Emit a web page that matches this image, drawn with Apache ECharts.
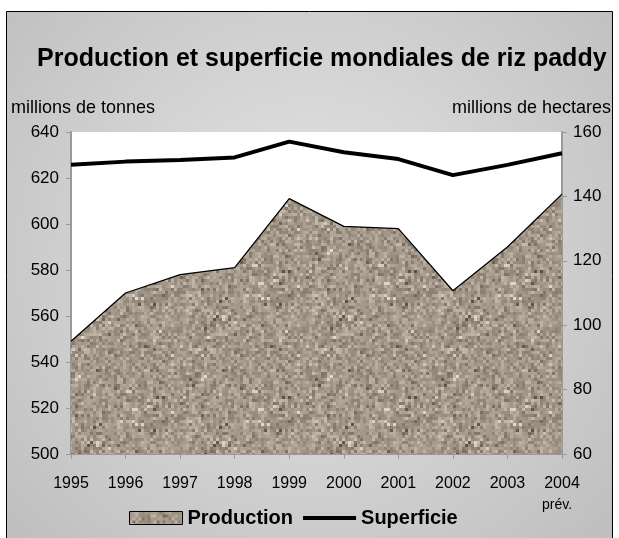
<!DOCTYPE html>
<html>
<head>
<meta charset="utf-8">
<script src="https://cdn.jsdelivr.net/npm/echarts@6/dist/echarts.min.js"></script>
<style>
  html, body { margin: 0; padding: 0; background: #fff; }
  #chart { width: 619px; height: 538px; }
</style>
</head>
<body>
<div id="chart"></div>
<script>
// ---- data ----
var years = ['1995', '1996', '1997', '1998', '1999', '2000', '2001', '2002', '2003', '2004'];
var production = [549, 570, 578, 581, 611, 599, 598, 571, 590, 613];   // millions de tonnes
var superficie = [149.8, 150.8, 151.3, 152.1, 157.0, 153.7, 151.6, 146.6, 149.8, 153.4]; // millions de hectares
var leftTicks = { min: 500, max: 640, interval: 20 };
var rightTicks = { min: 60, max: 160, interval: 20 };
var titleText = 'Production et superficie mondiales de riz paddy';
var leftName = 'millions de tonnes';
var rightName = 'millions de hectares';
var noteLast = 'prév.';

// ---- speckled texture (style only) ----
function makeTexture() {
  var size = 126, block = 3;
  var c = document.createElement('canvas');
  c.width = size; c.height = size;
  var ctx = c.getContext('2d');
  var seed = 12345;
  function rnd() { seed = (seed * 1103515245 + 12345) % 2147483648; return seed / 2147483648; }
  for (var y = 0; y < size; y += block) {
    for (var x = 0; x < size; x += block) {
      var p = rnd();
      var L;
      if (p < 0.015) L = 80 + rnd() * 40;
      else if (p < 0.03) L = 195 + rnd() * 25;
      else L = 152 + (rnd() + rnd() - 1) * 42;
      var r = Math.round(Math.min(255, L + 11)), g = Math.round(L - 1), b = Math.round(L - 14);
      ctx.fillStyle = 'rgb(' + r + ',' + g + ',' + b + ')';
      ctx.fillRect(x, y, block, block);
    }
  }
  return c;
}
var texture = { image: makeTexture(), repeat: 'repeat' };

var chart = echarts.init(document.getElementById('chart'), null, { renderer: 'canvas' });
var FONT = 'Arial, "Liberation Sans", sans-serif';
var axisGray = '#9a9a9a';

chart.setOption({
  animation: false,
  textStyle: { fontFamily: FONT, color: '#000' },
  graphic: [
    {
      type: 'rect', z: -10, silent: true,
      shape: { x: 6.5, y: 11.5, width: 606, height: 540 },
      style: {
        fill: { type: 'radial', x: 0.5, y: 0.45, r: 0.75,
          colorStops: [{ offset: 0, color: '#e6e6e6' }, { offset: 1, color: '#bfbfbf' }] },
        stroke: '#000', lineWidth: 1
      }
    },
    { type: 'text', left: 11, top: 99, z: 5,
      style: { text: leftName, font: '18px ' + FONT, fill: '#000' } },
    { type: 'text', right: 8, top: 99, z: 5,
      style: { text: rightName, font: '18px ' + FONT, fill: '#000', textAlign: 'right' } }
  ],
  title: {
    text: titleText, left: 32, top: 42,
    textStyle: { fontSize: 25, fontWeight: 'bold', color: '#000', fontFamily: FONT }
  },
  legend: {
    left: 124, top: 503,
    itemWidth: 53, itemHeight: 13, itemGap: 10,
    textStyle: { fontSize: 20, fontWeight: 'bold', color: '#000', fontFamily: FONT },
    data: [
      { name: 'Production', icon: 'rect', itemStyle: { color: texture, borderColor: '#000', borderWidth: 1 } },
      { name: 'Superficie', icon: 'path://M0,0 L53,0 L53,4 L0,4 Z', itemStyle: { color: '#000', borderWidth: 0 } }
    ]
  },
  grid: { left: 71, right: 57, top: 132, bottom: 84, show: true, backgroundColor: '#fff', borderWidth: 0 },
  xAxis: {
    type: 'category', data: years, boundaryGap: false,
    axisLine: { lineStyle: { color: axisGray, width: 2 } },
    axisTick: { show: true, interval: 0, length: 5, lineStyle: { color: axisGray } },
    axisLabel: {
      interval: 0, margin: 22, fontSize: 16, color: '#000', fontFamily: FONT,
      formatter: function (v) { return v === years[years.length - 1] ? v + '\n{p|' + noteLast + '}' : v; },
      rich: { p: { fontSize: 14, lineHeight: 26, padding: [0, 10, 0, 0], fontFamily: FONT, color: '#000' } }
    },
    splitLine: { show: false }
  },
  yAxis: [
    {
      type: 'value', min: leftTicks.min, max: leftTicks.max, interval: leftTicks.interval,
      axisLine: { show: true, lineStyle: { color: axisGray, width: 2 } },
      axisTick: { show: true, length: 5, lineStyle: { color: axisGray } },
      axisLabel: { margin: 12, fontSize: 17, color: '#000', fontFamily: FONT, padding: [5, 0, 0, 0] },
      splitLine: { show: false }
    },
    {
      type: 'value', min: rightTicks.min, max: rightTicks.max, interval: rightTicks.interval, position: 'right',
      axisLine: { show: true, lineStyle: { color: axisGray, width: 2 } },
      axisTick: { show: true, length: 5, lineStyle: { color: axisGray } },
      axisLabel: { margin: 11, fontSize: 17, color: '#000', fontFamily: FONT, padding: [5, 0, 0, 0] },
      splitLine: { show: false }
    }
  ],
  series: [
    {
      name: 'Production', type: 'line', yAxisIndex: 0, data: production,
      symbol: 'none', z: 2,
      lineStyle: { color: '#000', width: 1.3 },
      itemStyle: { color: texture, borderColor: '#000' },
      areaStyle: { color: texture, opacity: 1 }
    },
    {
      name: 'Superficie', type: 'line', yAxisIndex: 1, data: superficie,
      symbol: 'none', z: 3,
      lineStyle: { color: '#000', width: 4 },
      itemStyle: { color: '#000' }
    }
  ]
});
</script>
</body>
</html>
